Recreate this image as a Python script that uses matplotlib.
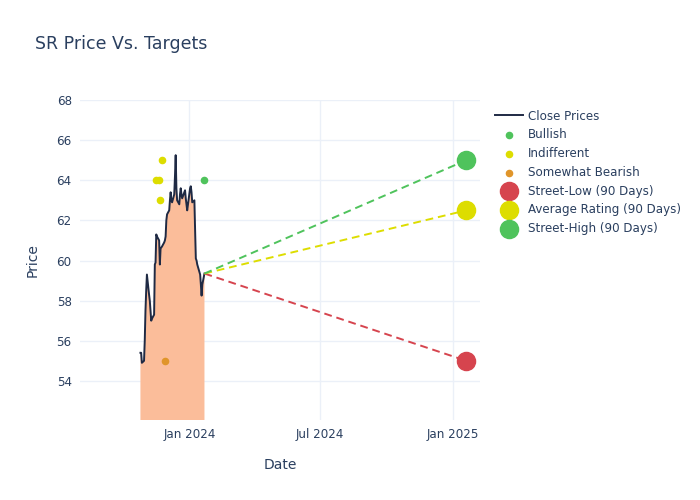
import matplotlib.pyplot as plt
import matplotlib.dates as mdates
import pandas as pd

# close prices (business days, US market holidays removed)
days = pd.bdate_range("2023-10-25", "2024-01-22")
holidays = pd.to_datetime(["2023-11-23", "2023-12-25", "2024-01-01", "2024-01-15"])
dates = days[~days.isin(holidays)]
close = [55.4, 55.4, 54.9, 55.0, 56.0, 57.5, 58.5, 59.3, 58.3, 58.0,
         57.5, 57.0, 57.1, 57.3, 59.8, 59.9, 61.3, 61.2, 61.0, 59.8,
         60.6, 60.7, 60.9, 61.0, 61.2, 62.0, 62.3, 62.5, 63.0, 63.4,
         63.0, 62.9, 63.3, 64.2, 65.25, 63.6, 63.0, 62.8, 63.3, 63.6,
         63.3, 63.1, 63.5, 63.1, 62.8, 62.5, 63.6, 63.7, 63.4, 62.9,
         63.0, 61.5, 60.1, 60.0, 59.8, 59.3, 58.8, 58.25, 58.8, 59.35]

# analyst ratings
bullish_dates = pd.to_datetime(["2024-01-22"])
bullish_vals = [64]
indiff_dates = pd.to_datetime(["2023-11-16", "2023-11-20", "2023-11-21", "2023-11-24"])
indiff_vals = [64, 64, 63, 65]
bear_dates = pd.to_datetime(["2023-11-28"])
bear_vals = [55]

# 90-day targets
target_date = pd.Timestamp("2025-01-20")
target_names = ["Street-Low (90 Days)", "Average Rating (90 Days)", "Street-High (90 Days)"]
target_vals = [55, 62.5, 65]
target_colors = ["#d6444e", "#dddd00", "#4fc35c"]

text_c = "#2a3f5f"
fig = plt.figure(figsize=(7, 5), dpi=100)
ax = fig.add_axes([0.1143, 0.16, 0.5714, 0.64])

ax.fill_between(dates, close, 0, color="#fbbd9a", lw=0)
ax.plot(dates, close, color="#1f2a44", lw=1.4, label="Close Prices")
ax.scatter(bullish_dates, bullish_vals, s=20, color="#4fc35c", label="Bullish", zorder=3)
ax.scatter(indiff_dates, indiff_vals, s=20, color="#dddd00", label="Indifferent", zorder=3)
ax.scatter(bear_dates, bear_vals, s=20, color="#e0952a", label="Somewhat Bearish", zorder=3)

for name, v, c in zip(target_names, target_vals, target_colors):
    ax.plot([dates[-1], target_date], [close[-1], v], ls="--", color=c, lw=1.4, dashes=(4, 2.5))
for name, v, c in zip(target_names, target_vals, target_colors):
    ax.scatter([target_date], [v], s=170, color=c, label=name, zorder=4)

ax.set_ylim(52.05, 68)
ax.set_xlim(pd.Timestamp("2023-08-02"), pd.Timestamp("2025-02-08"))
ax.set_yticks(range(54, 69, 2))
ax.set_xticks(pd.to_datetime(["2024-01-01", "2024-07-01", "2025-01-01"]))
ax.xaxis.set_major_formatter(mdates.DateFormatter("%b %Y"))
ax.grid(color="#ebf0f8", lw=1)
ax.set_axisbelow(True)
for s in ax.spines.values():
    s.set_visible(False)
ax.tick_params(length=0, labelsize=8.6, labelcolor=text_c, pad=6)
ax.set_xlabel("Date", fontsize=10, color=text_c, labelpad=12)
ax.set_ylabel("Price", fontsize=10, color=text_c, labelpad=12)

fig.text(0.05, 0.912, "SR Price Vs. Targets", fontsize=12.5, color=text_c, va="center")

leg = ax.legend(loc="upper left", bbox_to_anchor=(1.025, 0.985), frameon=False,
                fontsize=8.6, labelcolor=text_c, handlelength=2.4, labelspacing=0.48,
                borderaxespad=0, handletextpad=0.4)

fig.savefig("out.png", dpi=100, facecolor="white")
